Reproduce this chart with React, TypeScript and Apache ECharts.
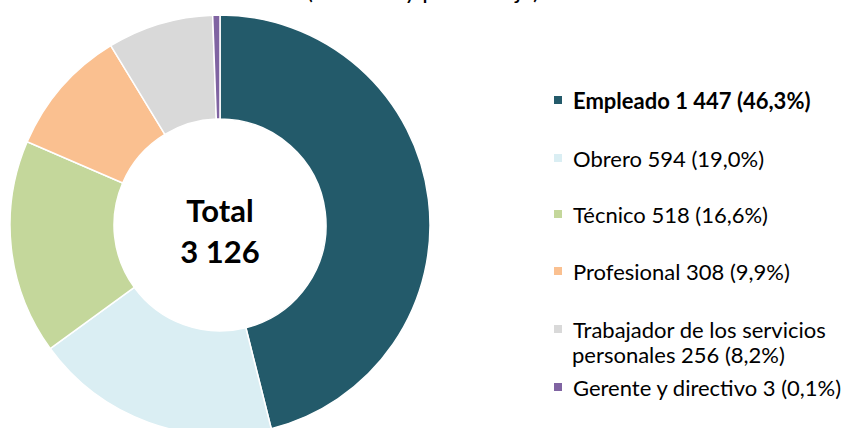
import React, { useEffect, useRef } from "react";
import * as echarts from "echarts";

const categories = [
  "Empleado",
  "Obrero",
  "Técnico",
  "Profesional",
  "Trabajador de los servicios personales",
  "Gerente y directivo",
];
const values = [1447, 594, 518, 308, 256, 3];
const colors = ["#235A6A", "#DAEEF3", "#C4D79B", "#FAC090", "#D9D9D9", "#8064A2"];
const legendFirstLines = [
  "Empleado",
  "Obrero",
  "Técnico",
  "Profesional",
  "Trabajador de los servicios",
  "Gerente y directivo",
];
const legendSecondLines = ["", "", "", "", "personales", ""];
const boldItems = [true, false, false, false, false, false];
const centerLabel = "Total";
const titleText = "(Número y porcentaje)";

const FONT = "Lato";
const legendCenters = [100, 158, 214, 271, 329, 387];
const secondLineOffset = 25;

function fmtNum(n: number): string {
  return String(n).replace(/\B(?=(\d{3})+(?!\d))/g, " ");
}
function fmtPct(v: number, total: number): string {
  return (Math.round((v / total) * 1000) / 10).toFixed(1).replace(".", ",");
}

export default function App() {
  const ref = useRef<HTMLDivElement>(null);
  useEffect(() => {
    if (!ref.current) return;
    const chart = echarts.init(ref.current, undefined, { renderer: "svg" });
    const total = values.reduce((a, b) => a + b, 0);
    const suffix = (i: number) => `${fmtNum(values[i])} (${fmtPct(values[i], total)}%)`;

    const legends = categories.map((name, i) => {
      const text = legendSecondLines[i]
        ? legendFirstLines[i]
        : `${legendFirstLines[i]} ${suffix(i)}`;
      return {
        data: [name],
        left: 552,
        top: legendCenters[i] - 13,
        orient: "vertical",
        padding: 0,
        itemWidth: 10,
        itemHeight: 10,
        icon: "rect",
        selectedMode: false,
        formatter: () => text,
        textStyle: {
          fontFamily: FONT,
          fontSize: 22,
          lineHeight: 26,
          color: "#000",
          fontWeight: boldItems[i] ? "bold" : "normal",
          padding: [0, 0, 0, 5],
        },
      };
    });

    const extraTexts: any[] = [];
    categories.forEach((_, i) => {
      if (legendSecondLines[i]) {
        extraTexts.push({
          type: "text",
          x: 572,
          y: legendCenters[i] + secondLineOffset,
          style: {
            text: `${legendSecondLines[i]} ${suffix(i)}`,
            fontFamily: FONT,
            fontSize: 22,
            fill: "#000",
            verticalAlign: "middle",
            align: "left",
          },
        });
      }
    });

    chart.setOption({
      animation: false,
      backgroundColor: "#fff",
      legend: legends,
      graphic: [
        {
          type: "text",
          x: 423,
          y: 1,
          style: {
            text: titleText,
            fontFamily: FONT,
            fontSize: 24,
            fill: "#000",
            align: "center",
            verticalAlign: "bottom",
          },
        },
        {
          type: "text",
          x: 220,
          y: 230,
          style: {
            text: `${centerLabel}\n${fmtNum(total)}`,
            fontFamily: FONT,
            fontSize: 31,
            fontWeight: "bold",
            lineHeight: 41,
            fill: "#000",
            align: "center",
            verticalAlign: "middle",
          },
        },
        ...extraTexts,
      ],
      series: [
        {
          type: "pie",
          center: [220, 225],
          radius: [106, 210],
          startAngle: 90,
          clockwise: true,
          minAngle: 2,
          avoidLabelOverlap: false,
          label: { show: false },
          labelLine: { show: false },
          emphasis: { disabled: true },
          itemStyle: { borderColor: "#fff", borderWidth: 1.5 },
          data: categories.map((name, i) => ({
            name,
            value: values[i],
            itemStyle: { color: colors[i] },
          })),
        },
      ],
    });
    return () => chart.dispose();
  }, []);
  return (
    <div
      ref={ref}
      style={{ position: "fixed", left: 0, top: 0, width: 846, height: 428 }}
    />
  );
}
